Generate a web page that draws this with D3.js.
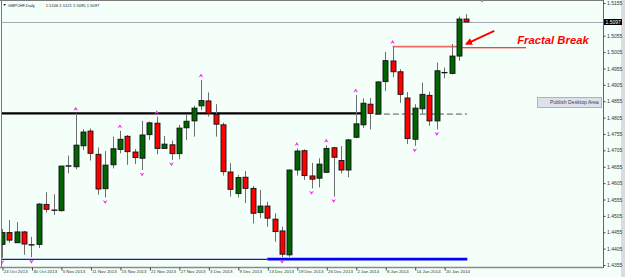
<html>
<head>
<script src="https://d3js.org/d3.v7.min.js"></script>
<style>
  body { margin: 0; background: #f5fffa; }
  svg { display: block; }
  .ax text { font: 4.4px "Liberation Sans", Arial, sans-serif; fill: #333; }
  .ax line { stroke: #444; }
  .py text { font-size: 5px; }
</style>
</head>
<body>
<svg width=625 height=277></svg>
<script>
// GBPCHF daily bars, 24 Oct 2013 .. 23 Jan 2014
var dates = ["2013-10-24","2013-10-25","2013-10-28","2013-10-29","2013-10-30","2013-10-31","2013-11-01","2013-11-04",
  "2013-11-05","2013-11-06","2013-11-07","2013-11-08","2013-11-11","2013-11-12","2013-11-13","2013-11-14",
  "2013-11-15","2013-11-18","2013-11-19","2013-11-20","2013-11-21","2013-11-22","2013-11-25","2013-11-26",
  "2013-11-27","2013-11-28","2013-11-29","2013-12-02","2013-12-03","2013-12-04","2013-12-05","2013-12-06",
  "2013-12-09","2013-12-10","2013-12-11","2013-12-12","2013-12-13","2013-12-16","2013-12-17","2013-12-18",
  "2013-12-19","2013-12-20","2013-12-23","2013-12-24","2013-12-26","2013-12-27","2013-12-30","2013-12-31",
  "2014-01-02","2014-01-03","2014-01-06","2014-01-07","2014-01-08","2014-01-09","2014-01-10","2014-01-13",
  "2014-01-14","2014-01-15","2014-01-16","2014-01-17","2014-01-20","2014-01-21","2014-01-22","2014-01-23"];
var open = [1.4418,1.4454,1.4423,1.4456,1.4417,1.4418,1.4540,1.4523,1.4521,1.4657,1.4655,1.4719,1.4764,1.4693,1.4588,1.4661,
  1.4708,1.4748,1.4700,1.4681,1.4753,1.4788,1.4711,1.4722,1.4695,1.4774,1.4795,1.4841,1.4856,1.4815,1.4783,1.4639,
  1.4573,1.4623,1.4589,1.4515,1.4535,1.4495,1.4459,1.4386,1.4645,1.4704,1.4627,1.4620,1.4638,1.4713,1.4674,1.4645,
  1.4745,1.4783,1.4846,1.4816,1.4915,1.4978,1.4945,1.4865,1.4739,1.4832,1.4873,1.4795,1.4942,1.4940,1.4993,1.5106];
var high = [1.4465,1.4492,1.4486,1.4459,1.4441,1.4544,1.4577,1.4571,1.4658,1.4689,1.4818,1.4770,1.4772,1.4714,1.4703,1.4747,
  1.4765,1.4752,1.4709,1.4795,1.4793,1.4808,1.4749,1.4735,1.4783,1.4813,1.4841,1.4920,1.4882,1.4846,1.4790,1.4666,
  1.4630,1.4642,1.4596,1.4584,1.4548,1.4513,1.4472,1.4646,1.4711,1.4708,1.4667,1.4681,1.4721,1.4716,1.4718,1.4740,
  1.4874,1.4864,1.4865,1.4915,1.5006,1.5022,1.4953,1.4883,1.4846,1.4912,1.4884,1.4973,1.4958,1.5030,1.5113,1.5121];
var low = [1.4377,1.4423,1.4422,1.4386,1.4379,1.4407,1.4515,1.4508,1.4518,1.4635,1.4647,1.4706,1.4674,1.4570,1.4561,1.4650,
  1.4696,1.4661,1.4663,1.4645,1.4737,1.4693,1.4710,1.4676,1.4678,1.4737,1.4747,1.4828,1.4808,1.4747,1.4628,1.4564,
  1.4561,1.4544,1.4482,1.4498,1.4472,1.4426,1.4379,1.4380,1.4628,1.4615,1.4589,1.4592,1.4636,1.4564,1.4635,1.4623,
  1.4742,1.4773,1.4769,1.4815,1.4886,1.4928,1.4850,1.4724,1.4719,1.4818,1.4780,1.4769,1.4925,1.4937,1.4979,1.5095];
var close = [1.4454,1.4431,1.4456,1.4419,1.4416,1.4541,1.4525,1.4522,1.4657,1.4658,1.4721,1.4761,1.4696,1.4587,1.4660,1.4710,
  1.4739,1.4701,1.4683,1.4752,1.4789,1.4711,1.4724,1.4695,1.4773,1.4794,1.4834,1.4857,1.4818,1.4785,1.4640,1.4586,
  1.4622,1.4589,1.4513,1.4535,1.4498,1.4457,1.4388,1.4645,1.4703,1.4628,1.4617,1.4663,1.4711,1.4684,1.4645,1.4737,
  1.4786,1.4849,1.4818,1.4914,1.4979,1.4945,1.4876,1.4741,1.4834,1.4876,1.4795,1.4948,1.4943,1.4993,1.5106,1.5097];

var fractalUp = [10,16,21,27,40,44,48,53];
var fractalDown = [0,4,14,19,23,38,42,45,56,59];
var dateTicks = [0,4,8,12,16,20,24,28,32,36,40,44,48,52,56,60];
// 1.5105 sits under the bid label, so it is left out
var priceTicks = [1.4355,1.4405,1.4455,1.4505,1.4555,1.4605,1.4655,1.4705,1.4755,1.4805,1.4855,
  1.4905,1.4955,1.5005,1.5055,1.5155];

var bidPrice = 1.5097;
var resistance = 1.4818;   // black line
var support = 1.4372;      // blue line
var fractalHigh = 1.5022;  // red line from bar 53
var breakArrow = [[66.8, 1.5070], [63.0, 1.5030]];
var breakLine = [62.4, 71.1, 1.5020];
var breakText = [69.9, 1.5029, "Fractal Break"];

var width = 625, height = 277;
var plotL = 2, plotR = 603, plotB = 267;

var svg = d3.select("svg");
var x = d3.scaleLinear().domain([0, dates.length - 1]).range([2, 466.3]);
var y = d3.scaleLinear().domain([1.4355, 1.5155]).range([265, 3]);
var parse = d3.timeParse("%Y-%m-%d");
var fmt = d3.timeFormat("%-d %b %Y");

svg.append("rect").attr("width", width).attr("height", height).attr("fill", "#f5fffa");
svg.append("rect").attr("x", 621).attr("y", 0).attr("width", 4).attr("height", height).attr("fill", "#dcdcdc");

svg.append("clipPath").attr("id", "plot")
  .append("rect").attr("x", plotL).attr("y", 1).attr("width", plotR - plotL).attr("height", plotB - 1);
var g = svg.append("g").attr("clip-path", "url(#plot)");

// bid line
g.append("line").attr("x1", plotL).attr("x2", plotR).attr("y1", Math.round(y(bidPrice)) + 0.5).attr("y2", Math.round(y(bidPrice)) + 0.5)
  .attr("stroke", "#a4a8b0").attr("stroke-width", 1);

// support lines
g.append("line").attr("x1", x(0) - 3).attr("x2", x(36)).attr("y1", y(support)).attr("y2", y(support))
  .attr("stroke", "#1a1ab0").attr("stroke-width", 1.2);
g.append("line").attr("x1", x(36)).attr("x2", x(63) + 1).attr("y1", y(support) - 0.3).attr("y2", y(support) - 0.3)
  .attr("stroke", "#0000ff").attr("stroke-width", 2.6);

// resistance
g.append("line").attr("x1", x(0) - 3).attr("x2", x(49)).attr("y1", y(resistance)).attr("y2", y(resistance))
  .attr("stroke", "#000").attr("stroke-width", 2.2);
g.append("line").attr("x1", x(50.6)).attr("x2", x(63.1)).attr("y1", y(resistance) + 0.7).attr("y2", y(resistance) + 0.7)
  .attr("stroke", "#555").attr("stroke-width", 1).attr("stroke-dasharray", "6,3");

// fractal high line
g.append("line").attr("x1", x(53)).attr("x2", x(62.4)).attr("y1", y(fractalHigh)).attr("y2", y(fractalHigh))
  .attr("stroke", "#f06a6a").attr("stroke-width", 1.8);
g.append("line").attr("x1", x(53)).attr("x2", x(53)).attr("y1", y(fractalHigh)).attr("y2", y(high[53]))
  .attr("stroke", "#707070");

// candles
var idx = d3.range(dates.length);
g.selectAll("line.wick").data(idx).enter().append("line").attr("class", "wick")
  .attr("x1", i => Math.round(x(i)) + 0.5).attr("x2", i => Math.round(x(i)) + 0.5)
  .attr("y1", i => y(high[i])).attr("y2", i => y(low[i]))
  .attr("stroke", "#6e6e6e").attr("stroke-width", 1);

g.selectAll("rect.body").data(idx).enter().append("rect").attr("class", "body")
  .attr("x", i => Math.round(x(i)) - 2)
  .attr("y", i => y(Math.max(open[i], close[i])))
  .attr("width", 5)
  .attr("height", i => Math.max(0.4, Math.abs(y(open[i]) - y(close[i]))))
  .attr("fill", i => close[i] >= open[i] ? "#006400" : "#ff0000")
  .attr("stroke", "#111").attr("stroke-width", 0.9);

// fractal arrows
g.selectAll("path.fu").data(fractalUp).enter().append("path").attr("class", "fu")
  .attr("transform", i => "translate(" + x(i) + "," + (y(high[i]) - 4.5) + ")")
  .attr("d", "M0,-2L2.4,2L0,0.8L-2.4,2Z").attr("fill", "#ff30ff");
g.selectAll("path.fd").data(fractalDown).enter().append("path").attr("class", "fd")
  .attr("transform", i => "translate(" + x(i) + "," + (y(low[i]) + 4.5) + ")")
  .attr("d", "M0,2L2.4,-2L0,-0.8L-2.4,-2Z").attr("fill", "#ff30ff");

// annotation
g.append("line").attr("x1", x(breakLine[0])).attr("x2", x(breakLine[1]))
  .attr("y1", y(breakLine[2]) + 0.5).attr("y2", y(breakLine[2]) + 0.5)
  .attr("stroke", "#ff0000").attr("stroke-width", 1.1);
svg.append("defs").append("marker").attr("id", "head").attr("viewBox", "0 0 10 10")
  .attr("refX", 8).attr("refY", 5).attr("markerWidth", 4).attr("markerHeight", 4).attr("orient", "auto")
  .append("path").attr("d", "M0,0L10,5L0,10Z").attr("fill", "#ff0000");
g.append("line")
  .attr("x1", x(breakArrow[0][0])).attr("y1", y(breakArrow[0][1]))
  .attr("x2", x(breakArrow[1][0])).attr("y2", y(breakArrow[1][1]))
  .attr("stroke", "#ff0000").attr("stroke-width", 1.8).attr("marker-end", "url(#head)");
g.append("text").attr("x", x(breakText[0])).attr("y", y(breakText[1]))
  .attr("font-family", "'Liberation Sans', Arial, sans-serif").attr("font-size", 11.3)
  .attr("font-weight", "bold").attr("font-style", "italic").attr("fill", "#ff0000")
  .text(breakText[2]);

// frame
svg.append("line").attr("x1", 0).attr("x2", plotR).attr("y1", 0.5).attr("y2", 0.5).attr("stroke", "#7a7a7a");
svg.append("line").attr("x1", 1.5).attr("x2", 1.5).attr("y1", 0).attr("y2", plotB).attr("stroke", "#7a7a7a");
svg.append("line").attr("x1", plotR + 0.5).attr("x2", plotR + 0.5).attr("y1", 0).attr("y2", plotB + 1).attr("stroke", "#666");
svg.append("line").attr("x1", 0).attr("x2", plotR).attr("y1", plotB + 0.5).attr("y2", plotB + 0.5)
  .attr("stroke", "#8a8a8a").attr("stroke-width", 1.6);
svg.append("path").attr("d", "M480,0L484,0L482,2.5Z").attr("fill", "#888");

// price axis
var yAxis = svg.append("g").attr("class", "ax py").attr("transform", "translate(" + (plotR + 0.5) + ",0)")
  .call(d3.axisRight(y).tickValues(priceTicks).tickSize(2).tickPadding(1.5).tickFormat(d3.format(".4f")));
yAxis.select(".domain").remove();
yAxis.selectAll(".tick").filter(d => Math.abs(d - 1.4855) < 1e-6).select("text").attr("fill", "#999");

// date axis
var xAxis = svg.append("g").attr("class", "ax").attr("transform", "translate(0," + (plotB + 0.5) + ")")
  .call(d3.axisBottom(x).tickValues(dateTicks).tickSize(3).tickFormat(i => fmt(parse(dates[i]))));
xAxis.select(".domain").remove();
xAxis.selectAll(".tick line").attr("transform", "translate(0.5,0)");
xAxis.selectAll("text").attr("text-anchor", "start").attr("x", 1.2).attr("dy", null).attr("y", 5.6);

// bid label
svg.append("rect").attr("x", plotR + 1).attr("y", y(bidPrice) - 3).attr("width", 18).attr("height", 6).attr("fill", "#000");
svg.append("text").attr("x", plotR + 2.5).attr("y", y(bidPrice) + 1.8)
  .attr("font-family", "'Liberation Sans', Arial, sans-serif").attr("font-size", 5).attr("fill", "#fff")
  .text(d3.format(".4f")(bidPrice));

// title
svg.append("path").attr("d", "M3.3,4L6,4L4.65,6Z").attr("fill", "#222");
svg.append("text").attr("x", 8).attr("y", 6.6)
  .attr("font-family", "'Liberation Sans', Arial, sans-serif").attr("font-size", 4.1).attr("fill", "#222")
  .text("GBPCHF,Daily");
svg.append("text").attr("x", 45.7).attr("y", 6.6)
  .attr("font-family", "'Liberation Sans', Arial, sans-serif").attr("font-size", 4.1).attr("fill", "#222")
  .text([open[63], high[63], low[63], close[63]].map(d3.format(".4f")).join(" "));

// publish box
svg.append("rect").attr("x", 537.5).attr("y", 97.5).attr("width", 64).attr("height", 10)
  .attr("fill", "#dde1ec").attr("stroke", "#aab0c6");
svg.append("text").attr("x", 550).attr("y", 104.3)
  .attr("font-family", "'Liberation Sans', Arial, sans-serif").attr("font-size", 5.1).attr("fill", "#444")
  .text("Publish Desktop Area");
</script>
</body>
</html>
